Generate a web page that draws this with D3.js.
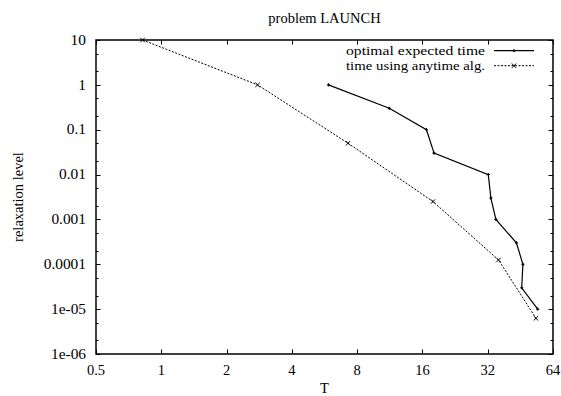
<!DOCTYPE html>
<html>
<head>
<meta charset="utf-8">
<script src="https://cdn.jsdelivr.net/npm/d3@7"></script>
<style>
  html, body { margin: 0; padding: 0; background: #fff; }
  svg { display: block; }
  text { font-family: "Liberation Serif", "Times New Roman", serif; fill: #000; }
</style>
</head>
<body>
<svg id="chart" width="561" height="396"></svg>
<script>
// Series: relaxation level reached versus time T
const optimalT     = [5.9, 11.25, 16.7, 18.1, 32.2, 33.1, 34.9, 43.4, 46.5, 45.9, 54.4];
const optimalLevel = [1, 0.3, 0.1, 0.03, 0.01, 0.003, 0.001, 0.0003, 0.0001, 0.00003, 0.00001];
const anytimeT     = [0.82, 2.78, 7.26, 17.9, 35.9, 53.4];
const anytimeLevel = [10, 1, 0.05, 0.0025, 0.000125, 0.00000625];

// Axis ticks
const xTicks = [0.5, 1, 2, 4, 8, 16, 32, 64];
const xTickLabels = ["0.5", "1", "2", "4", "8", "16", "32", "64"];
const yTicks = [10, 1, 0.1, 0.01, 0.001, 0.0001, 0.00001, 0.000001];
const yTickLabels = ["10", "1", "0.1", "0.01", "0.001", "0.0001", "1e-05", "1e-06"];
const yMinorMultipliers = [2, 5];

const seriesNames = ["optimal expected time", "time using anytime alg."];
const titleText = "problem LAUNCH";
const xLabel = "T";
const yLabel = "relaxation level";

const svg = d3.select("#chart");
const plotL = 96, plotR = 553, plotT = 40, plotB = 354;
const fontSize = 14.5;
const labelStretch = 1.06;

const x = d3.scaleLog().base(2).domain([0.5, 64]).range([plotL, plotR]);
const y = d3.scaleLog().base(10).domain([1e-6, 10]).range([plotB, plotT]);

const majorLen = 4.5, minorLen = 2.5;
const tickG = svg.append("g").attr("stroke", "#000").attr("stroke-width", 1);

// x ticks, bottom and mirrored top
xTicks.forEach(v => {
  const px = Math.round(x(v)) + 0.5;
  tickG.append("line").attr("x1", px).attr("x2", px).attr("y1", plotB).attr("y2", plotB - majorLen);
  tickG.append("line").attr("x1", px).attr("x2", px).attr("y1", plotT).attr("y2", plotT + majorLen);
});
// y major ticks, left and mirrored right
yTicks.forEach(v => {
  const py = Math.round(y(v)) + 0.5;
  tickG.append("line").attr("x1", plotL).attr("x2", plotL + majorLen).attr("y1", py).attr("y2", py);
  tickG.append("line").attr("x1", plotR).attr("x2", plotR - majorLen).attr("y1", py).attr("y2", py);
});
// y minor ticks at 2x and 5x each decade
yTicks.slice(1).forEach(v => {
  yMinorMultipliers.forEach(m => {
    const py = Math.round(y(v * m)) + 0.5;
    tickG.append("line").attr("x1", plotL).attr("x2", plotL + minorLen).attr("y1", py).attr("y2", py);
    tickG.append("line").attr("x1", plotR).attr("x2", plotR - minorLen).attr("y1", py).attr("y2", py);
  });
});

// border
svg.append("rect")
  .attr("x", plotL).attr("y", plotT)
  .attr("width", plotR - plotL).attr("height", plotB - plotT)
  .attr("fill", "none").attr("stroke", "#000").attr("stroke-width", 1.5);

// tick labels
svg.append("g").selectAll("text").data(xTicks).join("text")
  .attr("x", d => x(d)).attr("y", plotB + 21)
  .attr("text-anchor", "middle").attr("font-size", fontSize)
  .text((d, i) => xTickLabels[i]);
svg.append("g").selectAll("text").data(yTicks).join("text")
  .attr("x", plotL - 10).attr("y", d => y(d)).attr("dy", "0.33em")
  .attr("text-anchor", "end").attr("font-size", fontSize)
  .text((d, i) => yTickLabels[i])
  .each(function () {
    // slightly wider glyphs for the tick labels
    const w = this.getComputedTextLength();
    d3.select(this).attr("textLength", w * labelStretch).attr("lengthAdjust", "spacingAndGlyphs");
  });

// title and axis labels
svg.append("text").attr("x", (plotL + plotR) / 2).attr("y", 23)
  .attr("text-anchor", "middle").attr("font-size", fontSize).text(titleText);
svg.append("text").attr("x", (plotL + plotR) / 2).attr("y", 393)
  .attr("text-anchor", "middle").attr("font-size", fontSize).text(xLabel);
svg.append("text").attr("transform", `translate(23,${(plotT + plotB) / 2}) rotate(-90)`)
  .attr("text-anchor", "middle").attr("font-size", fontSize).text(yLabel);

// series
const line = d3.line().x(d => x(d[0])).y(d => y(d[1]));
const optimal = optimalT.map((t, i) => [t, optimalLevel[i]]);
const anytime = anytimeT.map((t, i) => [t, anytimeLevel[i]]);

const styles = [
  { data: optimal, dash: null, width: 1.2, marker: "plus" },
  { data: anytime, dash: "2,1.5", width: 1, marker: "cross" }
];

function drawMarker(g, cx, cy, kind) {
  if (kind === "plus") {
    const a = 1.6;
    g.append("path").attr("d", `M${cx - a},${cy}H${cx + a}M${cx},${cy - a}V${cy + a}`)
      .attr("stroke", "#000").attr("stroke-width", 1.1).attr("fill", "none");
  } else {
    const a = 2.2;
    g.append("path").attr("d", `M${cx - a},${cy - a}L${cx + a},${cy + a}M${cx - a},${cy + a}L${cx + a},${cy - a}`)
      .attr("stroke", "#000").attr("stroke-width", 1).attr("fill", "none");
  }
}

styles.forEach(s => {
  svg.append("path").datum(s.data)
    .attr("d", line).attr("fill", "none")
    .attr("stroke", "#000").attr("stroke-width", s.width)
    .attr("stroke-dasharray", s.dash);
  const mg = svg.append("g");
  s.data.forEach(d => drawMarker(mg, x(d[0]), y(d[1]), s.marker));
});

// legend: entries right-aligned before the line samples
const legendRows = [50.7, 65.7];
const legendFont = 13.5, legendTextWidth = 139;
const sampleX1 = 494, sampleX2 = 534;
styles.forEach((s, i) => {
  const ly = legendRows[i];
  svg.append("text").attr("x", 485).attr("y", ly).attr("dy", "0.33em")
    .attr("text-anchor", "end").attr("font-size", legendFont)
    .attr("textLength", legendTextWidth).attr("lengthAdjust", "spacingAndGlyphs")
    .text(seriesNames[i]);
  svg.append("line").attr("x1", sampleX1).attr("x2", sampleX2).attr("y1", ly).attr("y2", ly)
    .attr("stroke", "#000").attr("stroke-width", s.width).attr("stroke-dasharray", s.dash);
  drawMarker(svg, (sampleX1 + sampleX2) / 2, ly, s.marker);
});
</script>
</body>
</html>
